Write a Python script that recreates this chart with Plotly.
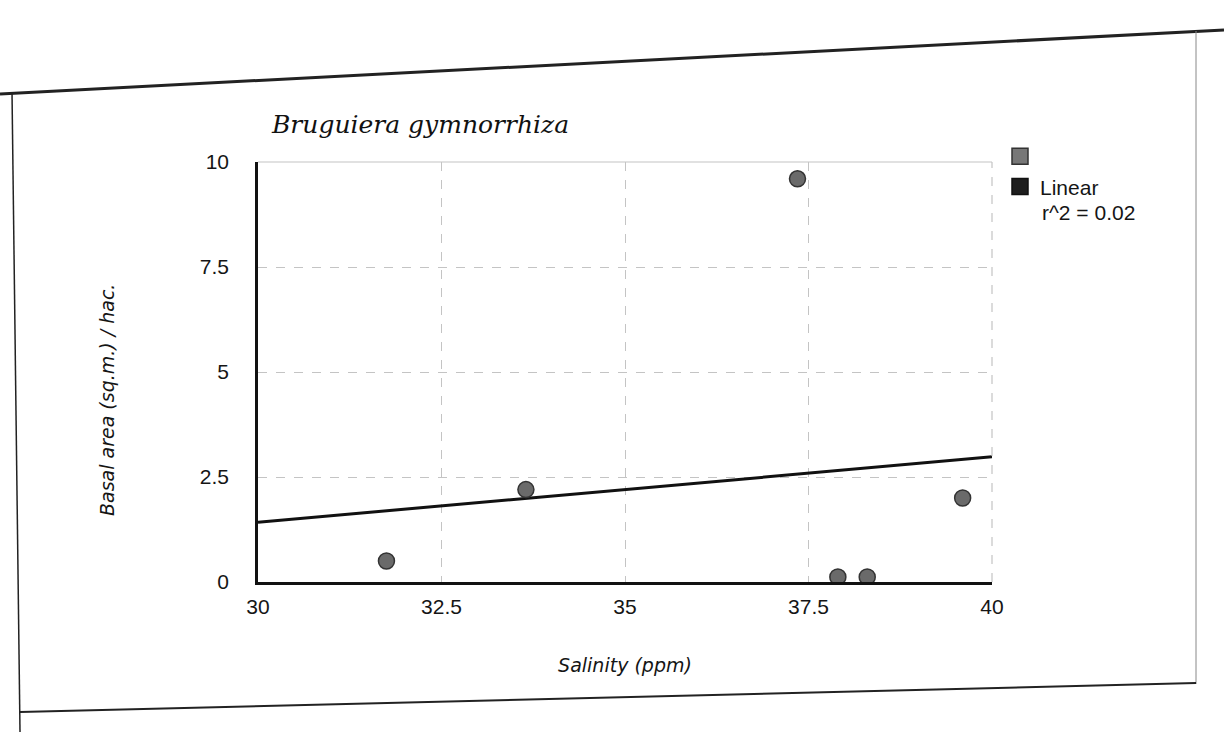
import numpy as np
import plotly.graph_objects as go

# Data
salinity = [31.75, 33.65, 37.35, 37.9, 38.3, 39.6]
basal_area = [0.5, 2.2, 9.6, 0.12, 0.12, 2.0]
x_ticks = [30, 32.5, 35, 37.5, 40]
y_ticks = [0, 2.5, 5, 7.5, 10]
legend_labels = ["", "Linear"]
fit_label = "r^2 = 0.02"

# linear trend from the data
slope, intercept = np.polyfit(salinity, basal_area, 1)
trend_x = [x_ticks[0], x_ticks[-1]]
trend_y = [intercept + slope * v for v in trend_x]

L, R, T, B = 258, 992, 162, 582
W, H = 1224, 732
pw, ph = R - L, B - T


def px(x):
    return (x - L) / pw


def py(y):
    return (B - y) / ph


fig = go.Figure()
fig.add_trace(go.Scatter(x=trend_x, y=trend_y, mode="lines",
                         line=dict(color="#111111", width=3), showlegend=False))
fig.add_trace(go.Scatter(x=salinity, y=basal_area, mode="markers",
                         marker=dict(size=16, color="#6a6a6a",
                                     line=dict(color="#333333", width=1.5)),
                         showlegend=False))
# legend entries (square swatches)
fig.add_trace(go.Scatter(x=[None], y=[None], mode="markers", name=legend_labels[0],
                         marker=dict(symbol="square", size=22, color="#777777",
                                     line=dict(color="#333333", width=1.5))))
fig.add_trace(go.Scatter(x=[None], y=[None], mode="markers", name=legend_labels[1],
                         marker=dict(symbol="square", size=22, color="#1e1e1e",
                                     line=dict(color="#111111", width=1.5))))

axis_common = dict(showgrid=True, gridcolor="#c4c4c4", griddash="dash", gridwidth=1.2,
                   zeroline=False, showline=True, linecolor="#111111", linewidth=2.5,
                   ticks="", tickfont=dict(family="Liberation Sans", size=21, color="#151515"),
                   mirror=False)

fig.update_layout(
    width=W, height=H,
    margin=dict(l=L, r=W - R, t=T, b=H - B),
    paper_bgcolor="white", plot_bgcolor="white",
    title=dict(text="<i>Bruguiera gymnorrhiza</i>", xref="container", x=272 / W,
               xanchor="left", yref="container", y=1 - 124 / H, yanchor="middle",
               font=dict(family="DejaVu Serif", size=25, color="#111111")),
    xaxis=dict(range=[30, 40], tickvals=x_ticks, ticktext=[str(v) for v in x_ticks],
               ticklabelstandoff=4,
               title=dict(text="<i>Salinity (ppm)</i>", standoff=42,
                          font=dict(family="DejaVu Sans", size=19, color="#151515")),
               **axis_common),
    yaxis=dict(range=[0, 10], tickvals=y_ticks, ticktext=[str(v) for v in y_ticks],
               ticklabelstandoff=22, **axis_common),
    legend=dict(x=px(1000), y=py(136), xanchor="left", yanchor="top",
                font=dict(family="Liberation Sans", size=21, color="#151515"),
                itemwidth=30, tracegroupgap=2, bgcolor="rgba(0,0,0,0)"),
    annotations=[
        dict(text=fit_label, xref="paper", yref="paper", x=px(1040), y=py(212),
             xanchor="left", yanchor="middle", showarrow=False,
             font=dict(family="Liberation Sans", size=21, color="#151515")),
        dict(text="<i>Basal area (sq.m.) / hac.</i>", xref="paper", yref="paper",
             x=px(107), y=py(400), xanchor="center", yanchor="middle", textangle=-90,
             showarrow=False,
             font=dict(family="DejaVu Sans", size=19, color="#151515")),
    ],
    shapes=[
        # top and right plot border (light)
        dict(type="line", xref="paper", yref="paper", x0=0, x1=1, y0=1, y1=1,
             line=dict(color="#c4c4c4", width=1.2)),
        dict(type="line", xref="paper", yref="paper", x0=1, x1=1, y0=0, y1=1,
             line=dict(color="#c4c4c4", width=1.2, dash="dash")),
        # scanned frame
        dict(type="line", xref="paper", yref="paper", x0=px(0), x1=px(1224),
             y0=py(94), y1=py(30), line=dict(color="#222222", width=3)),
        dict(type="line", xref="paper", yref="paper", x0=px(12), x1=px(20),
             y0=py(92), y1=py(732), line=dict(color="#222222", width=1.5)),
        dict(type="line", xref="paper", yref="paper", x0=px(1196), x1=px(1196),
             y0=py(31), y1=py(684), line=dict(color="#888888", width=1)),
        dict(type="line", xref="paper", yref="paper", x0=px(20), x1=px(1196),
             y0=py(712), y1=py(683), line=dict(color="#222222", width=2)),
    ],
)

fig.write_html("out.html")
